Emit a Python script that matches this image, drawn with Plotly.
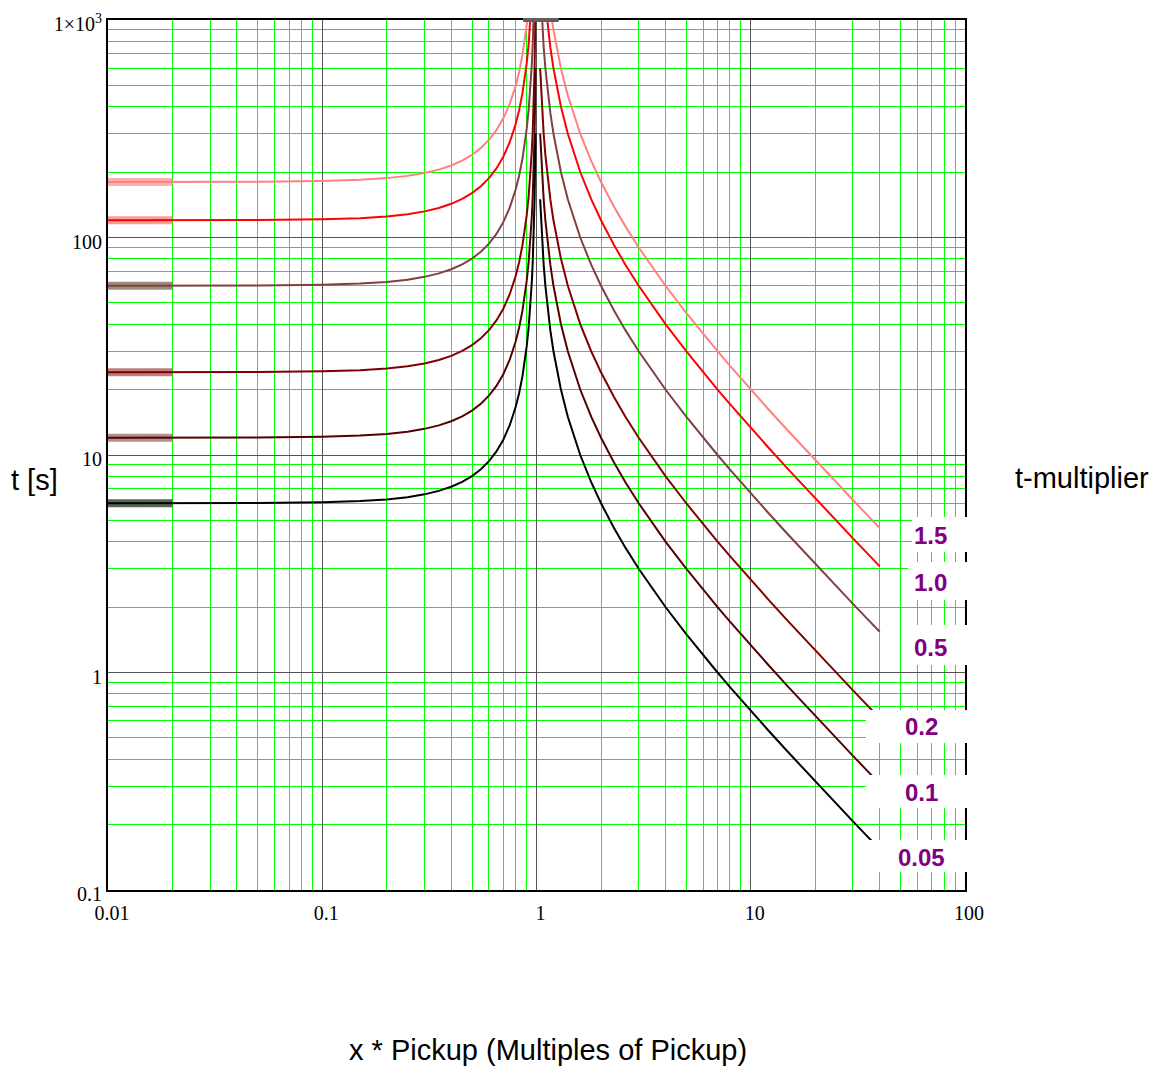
import plotly.graph_objects as go

# ---------------- data ----------------
multipliers = ["1.5", "1.0", "0.5", "0.2", "0.1", "0.05"]
colors = ["#ff8080", "#ff0000", "#804040", "#800000", "#550000", "#000000"]
thick_colors = ["rgba(250,150,150,0.75)", "rgba(255,90,90,0.6)", "rgba(125,115,95,0.8)",
                "rgba(165,85,85,0.75)", "rgba(135,85,85,0.65)", "rgba(55,75,55,0.85)"]

# reset region (x < 1)
x_reset = [0.01, 0.02, 0.05, 0.1, 0.15, 0.2, 0.25, 0.3, 0.35, 0.4, 0.45, 0.5, 0.55, 0.6,
           0.65, 0.7, 0.75, 0.8, 0.83, 0.86, 0.88, 0.9, 0.92, 0.94, 0.95, 0.96, 0.97, 0.98, 0.99]
t_reset_15 = [180.02, 180.07, 180.45, 181.82, 184.14, 187.50, 192.00, 197.80, 205.13, 214.29,
              225.71, 240.00, 258.06, 281.25, 311.69, 352.94, 411.43, 500.00, 578.59, 691.24,
              797.87, 947.37, 1171.9, 1546.4, 1846.2, 2295.9, 3045.7, 4545.5, 9045.2]
t_reset_10 = [120.01, 120.05, 120.30, 121.21, 122.76, 125.00, 128.00, 131.87, 136.75, 142.86,
              150.47, 160.00, 172.04, 187.50, 207.79, 235.29, 274.29, 333.33, 385.73, 460.83,
              531.91, 631.58, 781.25, 1030.93, 1230.77, 1530.61, 2030.46, 3030.30, 6030.15]
t_reset_05 = [60.005, 60.025, 60.15, 60.61, 61.38, 62.5, 64.0, 65.93, 68.38, 71.43, 75.24, 80.0,
              86.02, 93.75, 103.90, 117.65, 137.14, 166.67, 192.87, 230.41, 265.96, 315.79,
              390.63, 515.46, 615.38, 765.31, 1015.2, 1515.2, 3015.1]
t_reset_02 = [24.002, 24.01, 24.06, 24.24, 24.55, 25.0, 25.6, 26.37, 27.35, 28.57, 30.09, 32.0,
              34.41, 37.5, 41.56, 47.06, 54.86, 66.67, 77.15, 92.17, 106.38, 126.32, 156.25,
              206.19, 246.15, 306.12, 406.09, 606.06, 1206.0]
t_reset_01 = [12.001, 12.005, 12.03, 12.12, 12.28, 12.5, 12.8, 13.19, 13.68, 14.29, 15.05, 16.0,
              17.2, 18.75, 20.78, 23.53, 27.43, 33.33, 38.57, 46.08, 53.19, 63.16, 78.13, 103.09,
              123.08, 153.06, 203.05, 303.03, 603.02]
t_reset_005 = [6.0005, 6.0025, 6.015, 6.061, 6.138, 6.25, 6.4, 6.593, 6.838, 7.143, 7.524, 8.0,
               8.602, 9.375, 10.39, 11.76, 13.71, 16.67, 19.29, 23.04, 26.6, 31.58, 39.06, 51.55,
               61.54, 76.53, 101.52, 151.52, 301.51]

# trip region (x > 1)
x_trip = [1.04, 1.05, 1.06, 1.08, 1.1, 1.13, 1.16, 1.2, 1.25, 1.3, 1.4, 1.5, 1.6, 1.8, 2, 2.3,
          2.6, 3, 3.5, 4, 5, 6, 7, 8, 10, 12, 15, 20, 25, 30, 35, 40]
t_trip_15 = [4500, 3600, 3000, 2250, 1800, 1384.6, 1125, 900, 720, 600, 450, 360, 300, 225, 180,
             138.46, 112.5, 90, 72, 60, 45, 36, 30, 25.714, 20, 16.364, 12.857, 9.4737, 7.5,
             6.2069, 5.2941, 4.6154]
t_trip_10 = [3000, 2400, 2000, 1500, 1200, 923.08, 750, 600, 480, 400, 300, 240, 200, 150, 120,
             92.308, 75, 60, 48, 40, 30, 24, 20, 17.143, 13.333, 10.909, 8.5714, 6.3158, 5.0,
             4.1379, 3.5294, 3.0769]
t_trip_05 = [1500, 1200, 1000, 750, 600, 461.54, 375, 300, 240, 200, 150, 120, 100, 75, 60,
             46.154, 37.5, 30, 24, 20, 15, 12, 10, 8.5714, 6.6667, 5.4545, 4.2857, 3.1579, 2.5,
             2.069, 1.7647, 1.5385]
t_trip_02 = [600, 480, 400, 300, 240, 184.62, 150, 120, 96, 80, 60, 48, 40, 30, 24, 18.462, 15,
             12, 9.6, 8, 6, 4.8, 4, 3.4286, 2.6667, 2.1818, 1.7143, 1.2632, 1.0, 0.82759,
             0.70588, 0.61538]
t_trip_01 = [300, 240, 200, 150, 120, 92.308, 75, 60, 48, 40, 30, 24, 20, 15, 12, 9.2308, 7.5, 6,
             4.8, 4, 3, 2.4, 2, 1.7143, 1.3333, 1.0909, 0.85714, 0.63158, 0.5, 0.41379, 0.35294,
             0.30769]
t_trip_005 = [150, 120, 100, 75, 60, 46.154, 37.5, 30, 24, 20, 15, 12, 10, 7.5, 6, 4.6154, 3.75,
              3, 2.4, 2, 1.5, 1.2, 1, 0.85714, 0.66667, 0.54545, 0.42857, 0.31579, 0.25, 0.2069,
              0.17647, 0.15385]

reset_series = [t_reset_15, t_reset_10, t_reset_05, t_reset_02, t_reset_01, t_reset_005]
trip_series = [t_trip_15, t_trip_10, t_trip_05, t_trip_02, t_trip_01, t_trip_005]

x_tickvals = [0.01, 0.1, 1, 10, 100]
x_ticktext = ["0.01", "0.1", "1", "10", "100"]
y_tickvals = [0.1, 1, 10, 100, 1000]
y_ticktext = ["0.1", "1", "10", "100", "1×10<sup>3</sup>"]

# ---------------- figure ----------------
fig = go.Figure()

for i in range(len(multipliers)):
    # thick blurred first segment (0.01 .. 0.02)
    fig.add_trace(go.Scatter(x=x_reset[:2], y=reset_series[i][:2], mode="lines",
                             line=dict(color=thick_colors[i], width=8), hoverinfo="skip",
                             showlegend=False))
    fig.add_trace(go.Scatter(x=x_reset, y=reset_series[i], mode="lines",
                             line=dict(color=colors[i], width=2), name=multipliers[i],
                             showlegend=False))
    fig.add_trace(go.Scatter(x=x_trip, y=trip_series[i], mode="lines",
                             line=dict(color=colors[i], width=2), name=multipliers[i],
                             showlegend=False))

minor_x = [m * 10 ** k for k in range(-2, 2) for m in range(2, 10)]
minor_y = [m * 10 ** k for k in range(-1, 3) for m in range(2, 10)]

axis_font = dict(family="Liberation Serif, Times New Roman, serif", size=20, color="black")

fig.update_xaxes(type="log", range=[-2, 2], tickvals=x_tickvals, ticktext=x_ticktext,
                 showgrid=True, gridcolor="#555555", gridwidth=1, ticks="", automargin=False,
                 showline=True, mirror=True, linecolor="black", linewidth=2,
                 tickfont=axis_font, zeroline=False, ticklabelshift=4, ticklabelstandoff=4,
                 minor=dict(tickvals=minor_x, showgrid=True, gridcolor="#00ff00", gridwidth=1,
                            ticks=""))
fig.update_yaxes(type="log", range=[-1, 3], tickvals=y_tickvals, ticktext=y_ticktext,
                 showgrid=True, gridcolor="#555555", gridwidth=1, ticks="", automargin=False,
                 showline=True, mirror=True, linecolor="black", linewidth=2,
                 tickfont=axis_font, zeroline=False, ticklabelshift=4,
                 minor=dict(tickvals=minor_y, showgrid=True, gridcolor="#00ff00", gridwidth=1,
                            ticks=""))

# label boxes (white background) and multiplier labels
boxes = [  # x0, x1, y0, y1 in paper coords; label x, y
    (0.9381, 1.009, 0.3885, 0.4287, 0.9603, 0.4080),
    (0.9335, 1.009, 0.3333, 0.3770, 0.9603, 0.3529),
    (0.9300, 1.009, 0.2586, 0.3046, 0.9603, 0.2793),
    (0.8845, 1.009, 0.1690, 0.2069, 0.9487, 0.1874),
    (0.8845, 1.009, 0.0943, 0.1322, 0.9487, 0.1115),
    (0.8845, 1.009, 0.0207, 0.0575, 0.9487, 0.0379),
]
for (bx0, bx1, by0, by1, lx, ly), lab in zip(boxes, multipliers):
    fig.add_shape(type="rect", xref="paper", yref="paper", x0=bx0, x1=bx1, y0=by0, y1=by1,
                  fillcolor="white", line=dict(width=0), layer="above")
    fig.add_annotation(xref="paper", yref="paper", x=lx, y=ly, text="<b>%s</b>" % lab,
                       showarrow=False, xanchor="center", yanchor="middle",
                       font=dict(family="Liberation Sans, Arial, sans-serif", size=24,
                                 color="#800080"))

# dark cap at the top near x = 1
fig.add_shape(type="line", xref="x", yref="paper", x0=0.865, x1=1.27, y0=1.0, y1=1.0,
              line=dict(color="#606060", width=4), layer="above")

title_font = dict(family="Liberation Sans, Arial, sans-serif", size=29, color="black")
fig.add_annotation(xref="paper", yref="paper", x=-0.0852, y=0.4713, text="t [s]",
                   showarrow=False, xanchor="center", yanchor="middle", font=title_font)
fig.add_annotation(xref="paper", yref="paper", x=1.1365, y=0.4736, text="t-multiplier",
                   showarrow=False, xanchor="center", yanchor="middle", font=title_font)
fig.add_annotation(xref="paper", yref="paper", x=0.5134, y=-0.1839,
                   text="x * Pickup (Multiples of Pickup)",
                   showarrow=False, xanchor="center", yanchor="middle", font=title_font)

fig.update_layout(width=1166, height=1072, margin=dict(l=108, r=201, t=20, b=182),
                  plot_bgcolor="white", paper_bgcolor="white", showlegend=False)

fig.write_html("out.html", config={"displayModeBar": False},
               post_script="document.body.style.margin='0px';")
